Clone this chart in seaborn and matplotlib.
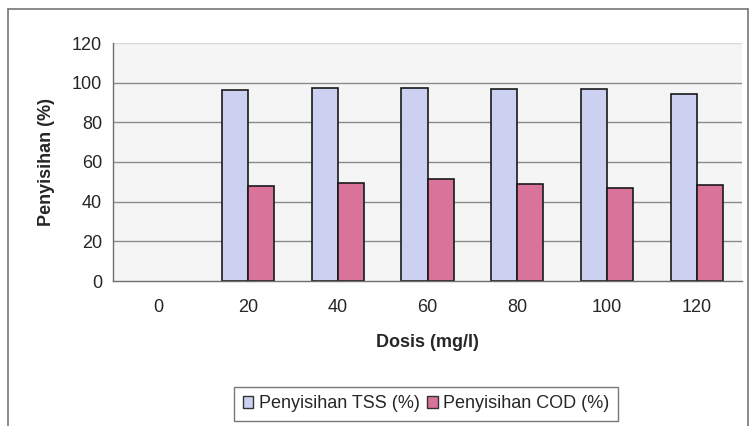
import matplotlib
matplotlib.use("Agg")
import matplotlib.pyplot as plt
from matplotlib.lines import Line2D
from matplotlib.patches import Patch
from matplotlib.ticker import FixedLocator
import seaborn as sns
import pandas as pd

# Coagulant dose (mg/l) and removal efficiencies (%)
dosis = ["0", "20", "40", "60", "80", "100", "120"]
tss_removal = [0, 96.5, 97.3, 97.3, 97.0, 97.0, 94.3]
cod_removal = [0, 48.0, 49.6, 51.5, 48.8, 46.8, 48.5]
series_names = ["Penyisihan TSS (%)", "Penyisihan COD (%)"]
y_ticks = [0, 20, 40, 60, 80, 100, 120]

df = pd.DataFrame({
    "Dosis": dosis * 2,
    "Nilai": tss_removal + cod_removal,
    "Seri": [series_names[0]] * len(dosis) + [series_names[1]] * len(dosis),
})

sns.set_style("white")
plt.rcParams["font.family"] = ["Liberation Sans", "DejaVu Sans"]

fig = plt.figure(figsize=(7.5, 4.26), dpi=100)
ax = fig.add_axes([113 / 750, 1 - 281 / 426, (742 - 113) / 750, (281 - 43) / 426])
ax.set_facecolor("#f6f5f5")

palette = {series_names[0]: "#cdd1f1", series_names[1]: "#d9739a"}
sns.barplot(data=df, x="Dosis", y="Nilai", hue="Seri", order=dosis,
            hue_order=series_names, palette=palette, width=0.58,
            edgecolor="#1a1a1a", linewidth=1.2, saturation=1, ax=ax,
            legend=False)

# empty doses draw no outline
for container in ax.containers:
    for patch in container:
        if patch.get_height() == 0:
            patch.set_linewidth(0)

ax.set_ylim(0, 120)
ax.set_xlim(-0.5, len(dosis) - 0.5)
ax.set_yticks(y_ticks)
ax.set_axisbelow(True)
for y in y_ticks[1:]:
    ax.axhline(y, color="#8a8a8a" if y < 120 else "#d8d8d8", lw=1.0, zorder=0)

for side in ["top", "right"]:
    ax.spines[side].set_visible(False)
for side in ["left", "bottom"]:
    ax.spines[side].set_color("#6e6e6e")
    ax.spines[side].set_linewidth(1.0)

ax.tick_params(axis="y", length=5, width=1, color="#6e6e6e", labelsize=13, pad=3)
ax.tick_params(axis="x", which="major", length=0, labelsize=13, pad=13)
ax.xaxis.set_minor_locator(FixedLocator([i - 0.5 for i in range(len(dosis) + 1)]))
ax.tick_params(axis="x", which="minor", length=5, width=1, color="#6e6e6e")

ax.set_xlabel("Dosis (mg/l)", fontsize=13, fontweight="bold", labelpad=13)
ax.set_ylabel("Penyisihan (%)", fontsize=13, fontweight="bold", labelpad=12)

handles = [Patch(facecolor=palette[name], edgecolor="#333333", linewidth=1.0)
           for name in series_names]
leg = fig.legend(handles, series_names, loc="center", bbox_to_anchor=(426 / 750, 1 - 404 / 426),
                 ncol=2, frameon=True, fontsize=13, handlelength=0.6,
                 handleheight=0.6, handletextpad=0.3, columnspacing=0.4,
                 borderpad=0.45, fancybox=False, borderaxespad=0)
leg.get_frame().set_edgecolor("#555555")
leg.get_frame().set_linewidth(1.0)

# Chart area frame (left, top, right edges)
for xs, ys in [([8, 8], [0, 417]), ([8, 748], [417, 417]), ([748, 748], [417, 0])]:
    fig.add_artist(Line2D([x / 750 for x in xs], [y / 426 for y in ys],
                          color="#777777", lw=1.2, transform=fig.transFigure))

fig.savefig("out.png", dpi=100, facecolor="white")
